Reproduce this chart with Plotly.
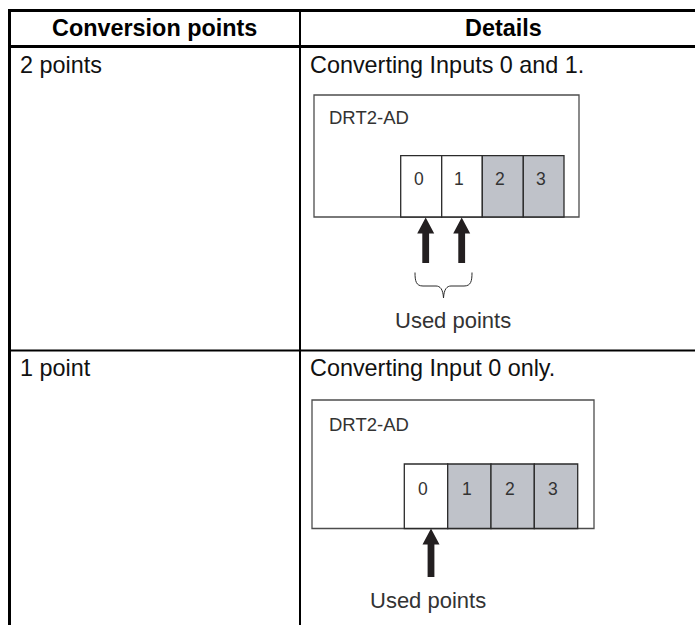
import plotly.graph_objects as go

FONT = "Liberation Sans"
headers = ["Conversion points", "Details"]
header_x = [154, 503]
row_labels = ["2 points", "1 point"]
row_details = ["Converting Inputs 0 and 1.", "Converting Input 0 only."]
row_y = [65, 368]
unit_name = "DRT2-AD"
used_label = "Used points"

# horizontal and vertical table rules: (x0, y0, x1, y1, width)
rules = [
    (8, 10.5, 695, 10.5, 3),
    (8, 46.5, 695, 46.5, 3),
    (8, 350.5, 695, 350.5, 2),
    (9.5, 9, 9.5, 625, 3),
    (300, 9, 300, 625, 2),
]

# the two unit drawings
boxes = [(314, 95, 579, 217), (312, 400, 594, 528.5)]
cell_edges = [[400.7, 441.7, 482.3, 523.3, 564], [404.3, 447.7, 491, 534.3, 577.7]]
cell_top = [155.7, 464]
cell_on = [[True, True, False, False], [True, False, False, False]]
cell_labels = ["0", "1", "2", "3"]
digit_x = [[418.7, 459, 500, 541], [423.3, 466.7, 510, 553]]
digit_y = [179, 489]
name_y = [117, 424]
arrows = [(425.7, 217.5, 263), (461.7, 217.5, 263), (431, 528.5, 577)]
used_pos = [(453, 320), (428, 600)]

BOX_LINE = "#4d4d4d"
CELL_OFF = "#bfc2c9"
INK = "#231f20"

shapes = []
for x0, y0, x1, y1 in boxes:
    shapes.append(dict(type="path", path=f"M{x0},{y1} L{x0},{y0} L{x1},{y0} L{x1},{y1} Z",
                       line=dict(color=BOX_LINE, width=1.3), fillcolor="white"))
for edges, top, box, flags in zip(cell_edges, cell_top, boxes, cell_on):
    for i, on in enumerate(flags):
        shapes.append(dict(type="rect", x0=edges[i], x1=edges[i + 1], y0=top, y1=box[3],
                           line=dict(color="#2b2b2b", width=1.3),
                           fillcolor="white" if on else CELL_OFF))
for x0, y0, x1, y1, w in rules:
    shapes.append(dict(type="line", x0=x0, y0=y0, x1=x1, y1=y1, line=dict(color="black", width=w)))
for cx, tip, end in arrows:
    shapes.append(dict(type="path",
                       path=(f"M{cx},{tip} L{cx+8.5},{tip+16} L{cx+3.4},{tip+16} L{cx+3.4},{end} "
                             f"L{cx-3.4},{end} L{cx-3.4},{tip+16} L{cx-8.5},{tip+16} Z"),
                       line=dict(width=0), fillcolor=INK))
# brace below the first pair of arrows
shapes.append(dict(type="path",
                   path="M415,272.5 C415,281 416,286 423,286 L436,286 C440,286 443,289 443.5,298 "
                        "C444,289 447,286 451,286 L464,286 C471,286 472,281 472,272.5",
                   line=dict(color="#2b2b2b", width=1), fillcolor="rgba(0,0,0,0)"))

ann = []
def text(x, y, s, size, anchor="left", color="#111111", bold=False):
    ann.append(dict(x=x, y=y, text=f"<b>{s}</b>" if bold else s, showarrow=False, xanchor=anchor,
                    yanchor="middle", xshift=0, font=dict(family=FONT, size=size, color=color)))

for x, h in zip(header_x, headers):
    text(x, 28, h, 23.4, "center", "black", True)
for y, lab, det in zip(row_y, row_labels, row_details):
    text(18, y, lab, 23.4)
    text(308, y, det, 23.4)
for y in name_y:
    text(327, y, unit_name, 18.5, color="#333333")
for xs, y in zip(digit_x, digit_y):
    for x, lab in zip(xs, cell_labels):
        text(x, y, lab, 17.5, "center", "#333333")
for x, y in used_pos:
    text(x, y, used_label, 22, "center", "#333333")

fig = go.Figure()
fig.update_layout(
    width=695, height=625, margin=dict(l=0, r=0, t=0, b=0),
    paper_bgcolor="white", plot_bgcolor="white", showlegend=False,
    xaxis=dict(range=[0, 695], visible=False, fixedrange=True),
    yaxis=dict(range=[625, 0], visible=False, fixedrange=True),
    shapes=shapes, annotations=ann,
)
fig.write_html("out.html", config=dict(displayModeBar=False),
               post_script="document.body.style.margin='0';")
